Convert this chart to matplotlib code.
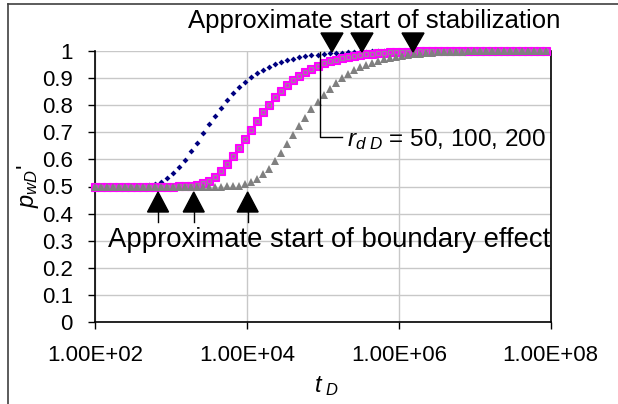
import matplotlib
matplotlib.use("Agg")
import matplotlib.pyplot as plt
from matplotlib.patches import Polygon
from matplotlib.lines import Line2D
import numpy as np

plt.rcParams['font.family'] = ['Liberation Sans', 'DejaVu Sans']
plt.rcParams['mathtext.fontset'] = 'custom'
plt.rcParams['mathtext.rm'] = 'Liberation Sans'
plt.rcParams['mathtext.it'] = 'Liberation Sans:italic'

# ---------------- data ----------------
t_D = [100, 120, 144, 172.8, 207.4, 248.8, 298.6, 358.3, 430.0, 516.0,
       619.2, 743.0, 891.6, 1070, 1284, 1541, 1849, 2219, 2662, 3195,
       3834, 4601, 5521, 6625, 7950, 9540, 11447, 13737, 16484, 19781,
       23738, 28485, 34182, 41019, 49222, 59067, 70880, 85056, 102067, 122481,
       146977, 176373, 211647, 253977, 304772, 365726, 438872, 526646, 631975, 758370,
       910044, 1.092e6, 1.310e6, 1.573e6, 1.887e6, 2.264e6, 2.717e6, 3.261e6, 3.913e6, 4.696e6,
       5.635e6, 6.762e6, 8.114e6, 9.737e6, 1.168e7, 1.402e7, 1.683e7, 2.019e7, 2.423e7, 2.907e7,
       3.489e7, 4.187e7, 5.024e7, 6.029e7, 7.235e7, 8.681e7]

p_rd50 = [0.5, 0.5, 0.5, 0.5, 0.5, 0.5, 0.5, 0.5005, 0.5015, 0.5039,
          0.5088, 0.5173, 0.5303, 0.5483, 0.5714, 0.5987, 0.6293, 0.6620, 0.6955, 0.7286,
          0.7605, 0.7904, 0.8179, 0.8428, 0.8651, 0.8847, 0.9019, 0.9168, 0.9296, 0.9406,
          0.9500, 0.9580, 0.9647, 0.9704, 0.9752, 0.9793, 0.9827, 0.9855, 0.9879, 0.9899,
          0.9916, 0.9930, 0.9941, 0.9951, 0.9959, 0.9966, 0.9972, 0.9976, 0.9980, 0.9984,
          0.9986, 0.9989, 0.9990, 0.9992, 0.9993, 0.9994, 0.9995, 0.9996, 0.9997, 0.9997,
          0.9998, 0.9998, 0.9998, 0.9998, 0.9999, 0.9999, 0.9999, 0.9999, 0.9999, 1.0,
          1.0, 1.0, 1.0, 1.0, 1.0, 1.0]

p_rd100 = [0.5, 0.5, 0.5, 0.5, 0.5, 0.5, 0.5, 0.5, 0.5, 0.5,
           0.5, 0.5, 0.5, 0.5, 0.5002, 0.5008, 0.5022, 0.5055, 0.5117, 0.5219,
           0.5368, 0.5569, 0.5817, 0.6105, 0.6421, 0.6753, 0.7087, 0.7415, 0.7726, 0.8016,
           0.8281, 0.8520, 0.8732, 0.8918, 0.9081, 0.9221, 0.9342, 0.9445, 0.9533, 0.9608,
           0.9671, 0.9724, 0.9769, 0.9807, 0.9839, 0.9865, 0.9887, 0.9906, 0.9922, 0.9934,
           0.9945, 0.9954, 0.9962, 0.9968, 0.9974, 0.9978, 0.9982, 0.9985, 0.9987, 0.9989,
           0.9991, 0.9993, 0.9994, 0.9995, 0.9996, 0.9996, 0.9997, 0.9997, 0.9998, 0.9998,
           0.9998, 0.9999, 0.9999, 0.9999, 0.9999, 0.9999]

p_rd200 = [0.5, 0.5, 0.5, 0.5, 0.5, 0.5, 0.5, 0.5, 0.5, 0.5,
           0.5, 0.5, 0.5, 0.5, 0.5, 0.5, 0.5, 0.5, 0.5, 0.5,
           0.5, 0.5, 0.5004, 0.5012, 0.5033, 0.5076, 0.5152, 0.5272, 0.5442, 0.5662,
           0.5927, 0.6228, 0.6552, 0.6886, 0.7218, 0.7540, 0.7844, 0.8124, 0.8379, 0.8607,
           0.8809, 0.8986, 0.9139, 0.9271, 0.9385, 0.9482, 0.9564, 0.9634, 0.9693, 0.9743,
           0.9785, 0.9820, 0.9850, 0.9874, 0.9895, 0.9912, 0.9927, 0.9939, 0.9949, 0.9958,
           0.9965, 0.9970, 0.9975, 0.9979, 0.9983, 0.9986, 0.9988, 0.9990, 0.9992, 0.9993,
           0.9994, 0.9995, 0.9996, 0.9997, 0.9997, 0.9998]

x_ticks = [1e2, 1e4, 1e6, 1e8]
x_tick_labels = ["1.00E+02", "1.00E+04", "1.00E+06", "1.00E+08"]
y_ticks = [0, 0.1, 0.2, 0.3, 0.4, 0.5, 0.6, 0.7, 0.8, 0.9, 1]
y_tick_labels = ["0", "0.1", "0.2", "0.3", "0.4", "0.5", "0.6", "0.7", "0.8", "0.9", "1"]

# annotation anchor positions (log10 tD)
stab_arrows = [5.12, 5.515, 6.187]
bound_arrows = [2.83, 3.30, 4.01]

assert len(t_D) == len(p_rd50) == len(p_rd100) == len(p_rd200)

# ---------------- figure ----------------
W, H = 618, 404
fig = plt.figure(figsize=(W / 100, H / 100), dpi=100)
fig.patch.set_facecolor('white')

x0, x1, yt, yb = 95, 550.7, 50.7, 322.3
ax = fig.add_axes([x0 / W, 1 - yb / H, (x1 - x0) / W, (yb - yt) / H])
ax.set_xscale('log')
ax.set_xlim(1e2, 1e8)
ax.set_ylim(0, 1)

ax.set_xticks(x_ticks)
ax.set_xticklabels(x_tick_labels)
ax.xaxis.set_minor_locator(matplotlib.ticker.NullLocator())
ax.set_yticks(y_ticks)
ax.set_yticklabels(y_tick_labels)
ax.tick_params(axis='both', direction='out', length=5, width=1, colors='black',
               labelsize=16)
ax.tick_params(axis='x', pad=11)
ax.tick_params(axis='y', pad=11)

ax.grid(True, which='major', color='#c8c8c8', linewidth=1)
ax.set_axisbelow(True)
for s in ['left', 'bottom', 'right']:
    ax.spines[s].set_color('black')
    ax.spines[s].set_linewidth(1.2)
ax.spines['top'].set_visible(False)

ax.plot(t_D, p_rd50, linestyle='none', marker='D', markersize=3.0,
        color='#000080', markeredgewidth=0, clip_on=False, zorder=3)
ax.plot(t_D, p_rd100, linestyle='none', marker='s', markersize=5.8,
        markerfacecolor='#ff00ff', markeredgecolor='#ff00ff', markeredgewidth=0.8,
        clip_on=False, zorder=4)
ax.plot(t_D, p_rd100, linestyle='none', marker='s', markersize=3.4,
        markerfacecolor='#ff00ff', markeredgecolor='#a080a0', markeredgewidth=0.9,
        clip_on=False, zorder=4)
ax.plot(t_D, p_rd200, linestyle='none', marker='^', markersize=6.2,
        color='#808080', markeredgewidth=0, clip_on=False, zorder=5)

# helpers: pixel -> data
def py2d(py):
    return (yb - py) / (yb - yt)

dec_px = (x1 - x0) / 6.0

# top arrows (stabilization)
for lx in stab_arrows:
    hw = 11 / dec_px
    tri = Polygon([[10 ** (lx - hw), py2d(33)], [10 ** (lx + hw), py2d(33)],
                   [10 ** lx, py2d(52)]], closed=True, facecolor='black',
                   edgecolor='black', clip_on=False, zorder=6)
    ax.add_patch(tri)

# bottom arrows (boundary effect)
for lx in bound_arrows:
    hw = 10.5 / dec_px
    tri = Polygon([[10 ** (lx - hw), py2d(212)], [10 ** (lx + hw), py2d(212)],
                   [10 ** lx, py2d(192)]], closed=True, facecolor='black',
                   edgecolor='black', clip_on=False, zorder=6)
    ax.add_patch(tri)
    ax.plot([10 ** lx, 10 ** lx], [py2d(212), py2d(222)], color='black',
            linewidth=1, clip_on=False, zorder=6)

# callout line
lx_c = (320 - x0) / dec_px + 2
lx_h = (342 - x0) / dec_px + 2
ax.plot([10 ** lx_c, 10 ** lx_c, 10 ** lx_h], [py2d(52), py2d(137), py2d(137)],
        color='black', linewidth=1, clip_on=False, zorder=6)

# texts (figure pixel positions)
def fx(px):
    return px / W

def fy(py):
    return 1 - py / H

fig.text(fx(347), fy(140), r"$r_{d\ D}$ = 50, 100, 200", fontsize=17.5,
         ha='left', va='center')
fig.text(fx(188), fy(28), "Approximate start of stabilization", fontsize=18.5,
         ha='left', va='baseline')
fig.text(fx(108), fy(246.7), "Approximate start of boundary effect", fontsize=19.8,
         ha='left', va='baseline')

fig.text(fx(28), fy(186), r"$p_{wD}$'", fontsize=17, rotation=90,
         ha='center', va='center')
fig.text(fx(326), fy(386), r"$t_{\ D}$", fontsize=17, ha='center', va='center')

# chart area border (left and top visible)
fig.add_artist(Line2D([fx(7.5), fx(7.5)], [0, fy(3.5)], color='#404040', linewidth=1.2))
fig.add_artist(Line2D([fx(7.5), 1], [fy(3.5), fy(3.5)], color='#404040', linewidth=1.2))

fig.savefig("out.png", dpi=100)
